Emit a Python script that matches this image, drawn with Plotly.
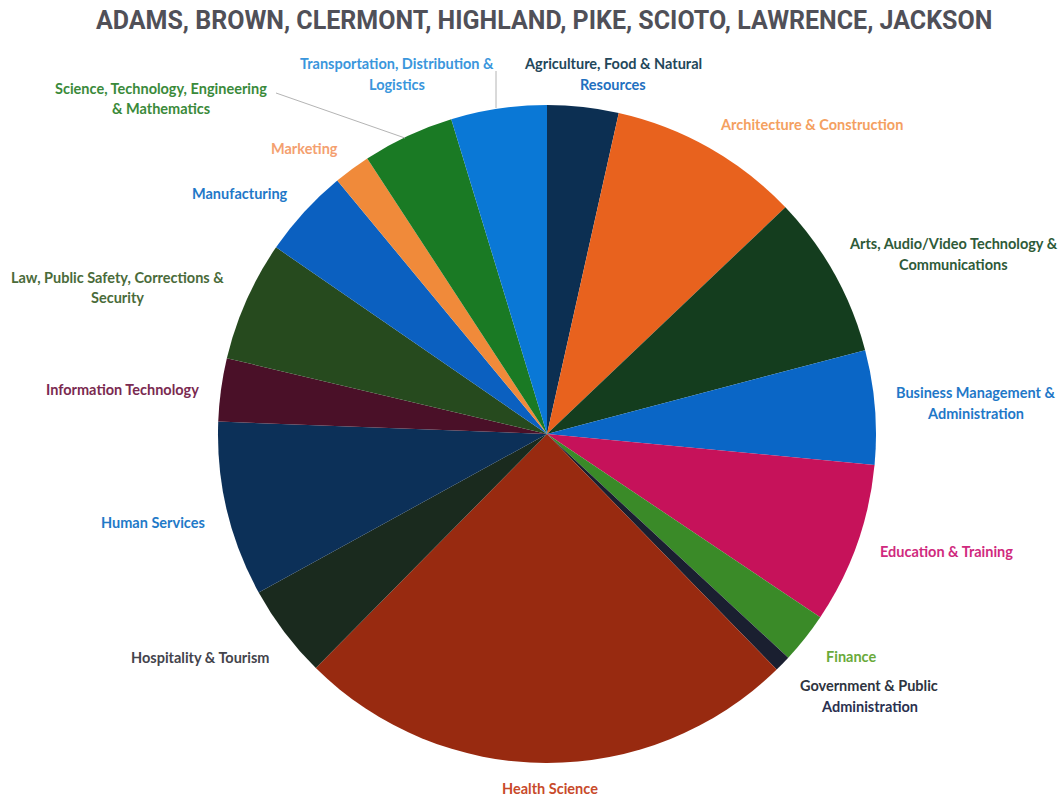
import plotly.graph_objects as go

# Career cluster shares (percent of total), clockwise from 12 o'clock
clusters = [
    "Agriculture, Food & Natural Resources",
    "Architecture & Construction",
    "Arts, Audio/Video Technology & Communications",
    "Business Management & Administration",
    "Education & Training",
    "Finance",
    "Government & Public Administration",
    "Health Science",
    "Hospitality & Tourism",
    "Human Services",
    "Information Technology",
    "Law, Public Safety, Corrections & Security",
    "Manufacturing",
    "Marketing",
    "Science, Technology, Engineering & Mathematics",
    "Transportation, Distribution & Logistics",
]
shares = [3.5, 9.4, 8.0, 5.6, 7.9, 2.5, 0.8, 24.7, 4.6, 8.6, 3.1, 5.9, 4.4, 1.8, 4.5, 4.7]

slice_colors = [
    "#0c2f52", "#e8621e", "#143d1e", "#0a66c6", "#c6125a", "#3a8a28",
    "#1a1f30", "#982a10", "#1a2a1e", "#0c3058", "#4a1028", "#264a1e",
    "#0b60c0", "#f08a3a", "#1a7a24", "#0a78d6",
]

# Label text lines and colours for each cluster
label_lines = [
    ["Agriculture, Food & Natural", "Resources"],
    ["Architecture & Construction"],
    ["Arts, Audio/Video Technology &", "Communications"],
    ["Business Management &", "Administration"],
    ["Education & Training"],
    ["Finance"],
    ["Government & Public", "Administration"],
    ["Health Science"],
    ["Hospitality & Tourism"],
    ["Human Services"],
    ["Information Technology"],
    ["Law, Public Safety, Corrections &", "Security"],
    ["Manufacturing"],
    ["Marketing"],
    ["Science, Technology, Engineering", "& Mathematics"],
    ["Transportation, Distribution &", "Logistics"],
]
label_colors = [
    ["#23475a", "#1f70c0"],
    ["#f4a060"],
    ["#2e5a38", "#2e5a38"],
    ["#1f78c8", "#1f78c8"],
    ["#d02a7e"],
    ["#6aaa3a"],
    ["#2e3440", "#2a3050"],
    ["#c84a2a"],
    ["#44444c"],
    ["#1f7ac8"],
    ["#7a2a50"],
    ["#4a6b3a", "#4a6b3a"],
    ["#1f78c8"],
    ["#f4a070"],
    ["#3a8a3a", "#3a8a3a"],
    ["#3a96dc", "#3a96dc"],
]
# Label anchor (centre x, first-line y) in pixels
label_pos = [
    (613, 63), (811, 124), (953, 243), (975, 392), (946, 551), (851, 656),
    (869, 685), (550, 788), (200, 657), (153, 522), (122, 389), (117, 277),
    (240, 194), (304, 149), (161, 88), (397, 63),
]
LINE_GAP = 21

W, H = 1058, 798
CX, CY, R = 547, 434, 329


def paper(x, y):
    return x / W, 1 - y / H


fig = go.Figure(
    go.Pie(
        labels=clusters,
        values=shares,
        sort=False,
        direction="clockwise",
        rotation=0,
        marker=dict(colors=slice_colors, line=dict(width=0)),
        textinfo="none",
        hoverinfo="label+percent",
        showlegend=False,
        domain=dict(
            x=[(CX - R) / W, (CX + R) / W],
            y=[1 - (CY + R) / H, 1 - (CY - R) / H],
        ),
    )
)

annotations = []
for lines, cols, (lx, ly) in zip(label_lines, label_colors, label_pos):
    for i, (txt, col) in enumerate(zip(lines, cols)):
        ax, ay = paper(lx, ly + i * LINE_GAP)
        annotations.append(
            dict(
                x=ax, y=ay, xref="paper", yref="paper",
                text=txt, showarrow=False,
                xanchor="center", yanchor="middle",
                font=dict(family="Lato", size=14.5, color=col, weight="bold"),
            )
        )

# Chart title
tx, ty = paper(544, 21)
annotations.append(
    dict(
        x=tx, y=ty, xref="paper", yref="paper",
        text="ADAMS, BROWN, CLERMONT, HIGHLAND, PIKE, SCIOTO, LAWRENCE, JACKSON",
        showarrow=False, xanchor="center", yanchor="middle",
        font=dict(family="Roboto", size=25, color="#505058", weight="bold"),
    )
)

# Leader lines for the two crowded labels at the top
leaders = [((276, 93), (405, 138)), ((496, 71), (496, 108))]
shapes = []
for (x0, y0), (x1, y1) in leaders:
    px0, py0 = paper(x0, y0)
    px1, py1 = paper(x1, y1)
    shapes.append(
        dict(type="line", xref="paper", yref="paper", x0=px0, y0=py0, x1=px1, y1=py1,
             line=dict(color="#b4b4b4", width=1))
    )

fig.update_layout(
    width=W, height=H,
    margin=dict(l=0, r=0, t=0, b=0),
    paper_bgcolor="white",
    plot_bgcolor="white",
    annotations=annotations,
    shapes=shapes,
)

fig.write_html("out.html")
